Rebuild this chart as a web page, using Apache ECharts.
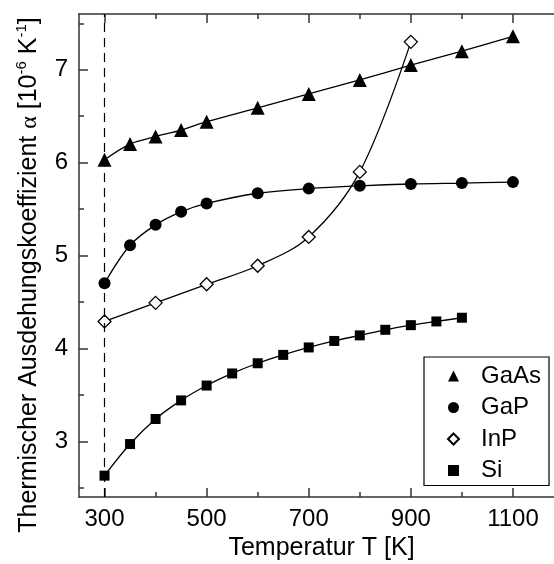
<!DOCTYPE html>
<html>
<head>
<meta charset="utf-8">
<script src="https://cdn.jsdelivr.net/npm/echarts@6/dist/echarts.min.js"></script>
<style>
  html, body { margin: 0; padding: 0; background: #fff; }
  #chart { width: 554px; height: 564px; }
</style>
</head>
<body>
<div id="chart"></div>
<script>
// Temperatures [K] at which each material was measured
const tempGaAs = [300, 350, 400, 450, 500, 600, 700, 800, 900, 1000, 1100];
const alphaGaAs = [6.03, 6.20, 6.28, 6.35, 6.44, 6.59, 6.74, 6.89, 7.05, 7.20, 7.36];

const tempGaP = [300, 350, 400, 450, 500, 600, 700, 800, 900, 1000, 1100];
const alphaGaP = [4.70, 5.11, 5.33, 5.47, 5.56, 5.67, 5.72, 5.75, 5.77, 5.78, 5.79];

const tempInP = [300, 400, 500, 600, 700, 800, 900];
const alphaInP = [4.29, 4.49, 4.69, 4.89, 5.20, 5.90, 7.30];

const tempSi = [300, 350, 400, 450, 500, 550, 600, 650, 700, 750, 800, 850, 900, 950, 1000];
const alphaSi = [2.63, 2.97, 3.24, 3.44, 3.60, 3.73, 3.84, 3.93, 4.01, 4.08, 4.14, 4.20, 4.25, 4.29, 4.33];

// Axis ticks
const xMajorTicks = [300, 500, 700, 900, 1100];
const xMinorTicks = [400, 600, 800, 1000];
const yMajorTicks = [3, 4, 5, 6, 7];
const yMinorTicks = [2.5, 3.5, 4.5, 5.5, 6.5, 7.5];

// Reference temperature marked with a dashed line
const roomTemp = 300;

const X_MIN = 250, X_MAX = 1200;
const Y_MIN = 2.4, Y_MAX = 7.6;

const FONT = '"Liberation Sans", Arial, Helvetica, sans-serif';
const AXIS_COLOR = '#333';

function pairs(xs, ys) {
  return xs.map((x, i) => [x, ys[i]]);
}

function plainNumber(v) { return String(v); }

function xAxisDef(position, ticks, tickLen, showLine, labels) {
  return {
    type: 'value', position: position, min: X_MIN, max: X_MAX,
    axisLine: { show: showLine, onZero: false, lineStyle: { color: AXIS_COLOR, width: 1.5 } },
    axisTick: { show: true, inside: true, length: tickLen, customValues: ticks,
      lineStyle: { color: AXIS_COLOR, width: 1.5 } },
    axisLabel: labels ? { show: true, customValues: labels, formatter: plainNumber,
      fontSize: 24, fontFamily: FONT, color: '#000', margin: 10 } : { show: false },
    splitLine: { show: false }
  };
}

function yAxisDef(ticks, tickLen, showLine, labels) {
  return {
    type: 'value', position: 'left', min: Y_MIN, max: Y_MAX,
    axisLine: { show: showLine, onZero: false, lineStyle: { color: AXIS_COLOR, width: 1.5 } },
    axisTick: { show: true, inside: true, length: tickLen, customValues: ticks,
      lineStyle: { color: AXIS_COLOR, width: 1.5 } },
    axisLabel: labels ? { show: true, customValues: labels, formatter: plainNumber,
      fontSize: 24, fontFamily: FONT, color: '#000', margin: 11 } : { show: false },
    splitLine: { show: false }
  };
}

const xBottom = xAxisDef('bottom', xMajorTicks, 9, true, xMajorTicks);
xBottom.name = 'Temperatur T [K]';
xBottom.nameLocation = 'middle';
xBottom.nameGap = 38;
xBottom.nameTextStyle = { fontSize: 25, fontFamily: FONT, color: '#000' };

const yLeft = yAxisDef(yMajorTicks, 9, true, yMajorTicks);
yLeft.name = '{t|Thermischer Ausdehungskoeffizient }{a|\u03b1}{t| [10}{s|-6}{t| K}{s|-1}{t|]}';
yLeft.nameLocation = 'middle';
yLeft.nameGap = 37;
yLeft.nameTextStyle = {
  fontFamily: FONT, color: '#000', fontSize: 25,
  padding: [0, 39, 0, 0],
  rich: {
    t: { fontSize: 25, fontFamily: FONT, color: '#000', lineHeight: 28, verticalAlign: 'bottom' },
    a: { fontSize: 24, fontFamily: '"Liberation Serif", serif', color: '#000', lineHeight: 28, verticalAlign: 'bottom' },
    s: { fontSize: 15, fontFamily: FONT, color: '#000', lineHeight: 28, verticalAlign: 'top' }
  }
};

function lineSeries(name, xs, ys, symbol, size, hollow) {
  return {
    name: name, type: 'line', xAxisIndex: 0, yAxisIndex: 0,
    data: pairs(xs, ys),
    smooth: 0.35,
    symbol: symbol, symbolSize: size,
    showAllSymbol: true,
    lineStyle: { color: '#000', width: 1.3 },
    itemStyle: hollow
      ? { color: '#fff', borderColor: '#000', borderWidth: 1.3 }
      : { color: '#000', borderColor: '#000', borderWidth: 0 },
    emphasis: { disabled: true },
    z: hollow ? 4 : 3
  };
}

const series = [
  lineSeries('GaAs', tempGaAs, alphaGaAs, 'triangle', 14, false),
  lineSeries('GaP', tempGaP, alphaGaP, 'circle', 12, false),
  lineSeries('InP', tempInP, alphaInP, 'diamond', 13, true),
  lineSeries('Si', tempSi, alphaSi, 'rect', 10, false)
];
series[0].markLine = {
  silent: true,
  symbol: ['none', 'none'],
  label: { show: false },
  lineStyle: { color: '#000', width: 1.2, type: [9, 6] },
  data: [{ xAxis: roomTemp }],
  animation: false
};

const chart = echarts.init(document.getElementById('chart'), null, { renderer: 'canvas' });
chart.setOption({
  animation: false,
  backgroundColor: '#fff',
  grid: { left: 79, top: 14, width: 485, bottom: 67, containLabel: false, outerBoundsMode: 'none' },
  xAxis: [
    xBottom,
    xAxisDef('bottom', xMinorTicks, 5, false, null),
    xAxisDef('top', xMajorTicks, 9, true, null),
    xAxisDef('top', xMinorTicks, 5, false, null)
  ],
  yAxis: [
    yLeft,
    yAxisDef(yMinorTicks, 5, false, null)
  ],
  legend: {
    orient: 'vertical',
    left: 424, top: 357,
    padding: [7, 8, 3, 23],
    itemGap: 7.5,
    itemWidth: 11, itemHeight: 11,
    backgroundColor: '#fff',
    borderColor: '#000', borderWidth: 1.2, borderRadius: 0,
    selectedMode: false,
    data: [
      { name: 'GaAs', icon: 'triangle' },
      { name: 'GaP', icon: 'circle' },
      { name: 'InP', icon: 'diamond' },
      { name: 'Si', icon: 'rect' }
    ],
    formatter: function (name) { return '{g| }{n|' + name + '}'; },
    textStyle: {
      fontSize: 24, fontFamily: FONT, color: '#000',
      rich: {
        g: { width: 17, fontSize: 24 },
        n: { fontSize: 24, fontFamily: FONT, color: '#000' }
      }
    }
  },
  series: series
});
</script>
</body>
</html>
